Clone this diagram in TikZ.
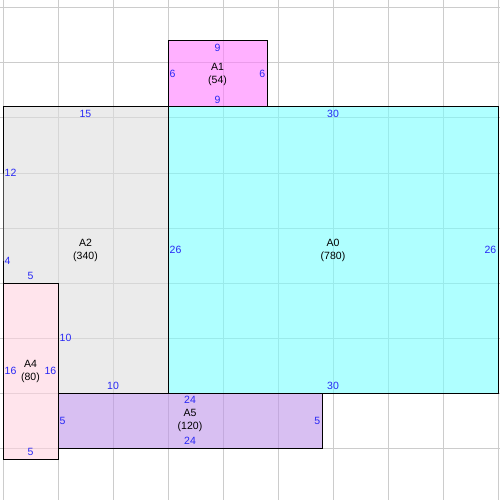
\documentclass[tikz,border=0pt]{standalone}
\usepackage{fontspec}
\setmainfont{Liberation Sans}
\definecolor{gridc}{RGB}{204,204,204}
\definecolor{cA0}{RGB}{122,255,255}
\definecolor{cA1}{RGB}{255,123,255}
\definecolor{cA2}{RGB}{222,222,222}
\definecolor{cA4}{RGB}{255,210,223}
\definecolor{cA5}{RGB}{190,148,233}
\definecolor{lblc}{RGB}{40,40,245}
\tikzset{
  gridline/.style={draw=gridc, line width=1pt},
  area/.style={fill opacity=0.6, draw=none},
  border/.style={draw=black, line width=1pt},
  txt/.style={font=\fontsize{10.5}{13}\selectfont, inner sep=0pt},
  nm/.style={txt, align=center, text=black},
  lbl/.style={txt, text=lblc},
  lt/.style={lbl, yshift=-7pt},
  lb/.style={lbl, yshift=7pt},
  ll/.style={lbl, anchor=west, xshift=1.5pt},
  lr/.style={lbl, anchor=east, xshift=-1.5pt}
}
\begin{document}
\begin{tikzpicture}[x=11pt,y=-11pt]
\useasboundingbox (-3/11,-41/11) rectangle (497/11,459/11);
% grid
\foreach \u in {0,5,...,45} {\draw[gridline] (\u,-41/11) -- (\u,459/11);}
\foreach \v in {-3,2,...,37} {\draw[gridline] (-3/11,\v) -- (497/11,\v);}
% fills
\fill[area, cA2] (0,6) -- (15,6) -- (15,32) -- (5,32) -- (5,22) -- (0,22) -- (0,18) -- cycle;
\fill[area, cA0] (15,6) rectangle (45,32);
\fill[area, cA1] (15,0) rectangle (24,6);
\fill[area, cA4] (0,22) rectangle (5,38);
\fill[area, cA5] (5,32) rectangle (29,37);
% borders
\draw[border] (0,6) -- (15,6) -- (15,32) -- (5,32) -- (5,22) -- (0,22) -- (0,18) -- cycle;
\draw[border] (15,6) rectangle (45,32);
\draw[border] (15,0) rectangle (24,6);
\draw[border] (0,22) rectangle (5,38);
\draw[border] (5,32) rectangle (29,37);
% names
\node[nm] (nA0) at (30,19) {A0\\(780)};
\node[nm] (nA1) at (19.5,3) {A1\\(54)};
\node[nm] (nA2) at (7.5,19) {A2\\(340)};
\node[nm] (nA4) at (2.5,30) {A4\\(80)};
\node[nm] (nA5) at (17,34.5) {A5\\(120)};
% A1 labels
\node[lt] (a1t) at (19.5,0) {9};
\node[lb] (a1b) at (19.5,6) {9};
\node[ll] (a1l) at (15,3) {6};
\node[lr] (a1r) at (24,3) {6};
% A0 labels
\node[lt] (a0t) at (30,6) {30};
\node[lb] (a0b) at (30,32) {30};
\node[ll] (a0l) at (15,19) {26};
\node[lr] (a0r) at (45,19) {26};
% A2 labels
\node[lt] (a2t) at (7.5,6) {15};
\node[ll] (a2l1) at (0,12) {12};
\node[ll] (a2l2) at (0,20) {4};
\node[lb] (a2n) at (2.5,22) {5};
\node[ll] (a2i) at (5,27) {10};
\node[lb] (a2b) at (10,32) {10};
% A4 labels
\node[ll] (a4l) at (0,30) {16};
\node[lr] (a4r) at (5,30) {16};
\node[lb] (a4b) at (2.5,38) {5};
% A5 labels
\node[lt] (a5t) at (17,32) {24};
\node[lb] (a5b) at (17,37) {24};
\node[ll] (a5l) at (5,34.5) {5};
\node[lr] (a5r) at (29,34.5) {5};
\end{tikzpicture}
\end{document}
